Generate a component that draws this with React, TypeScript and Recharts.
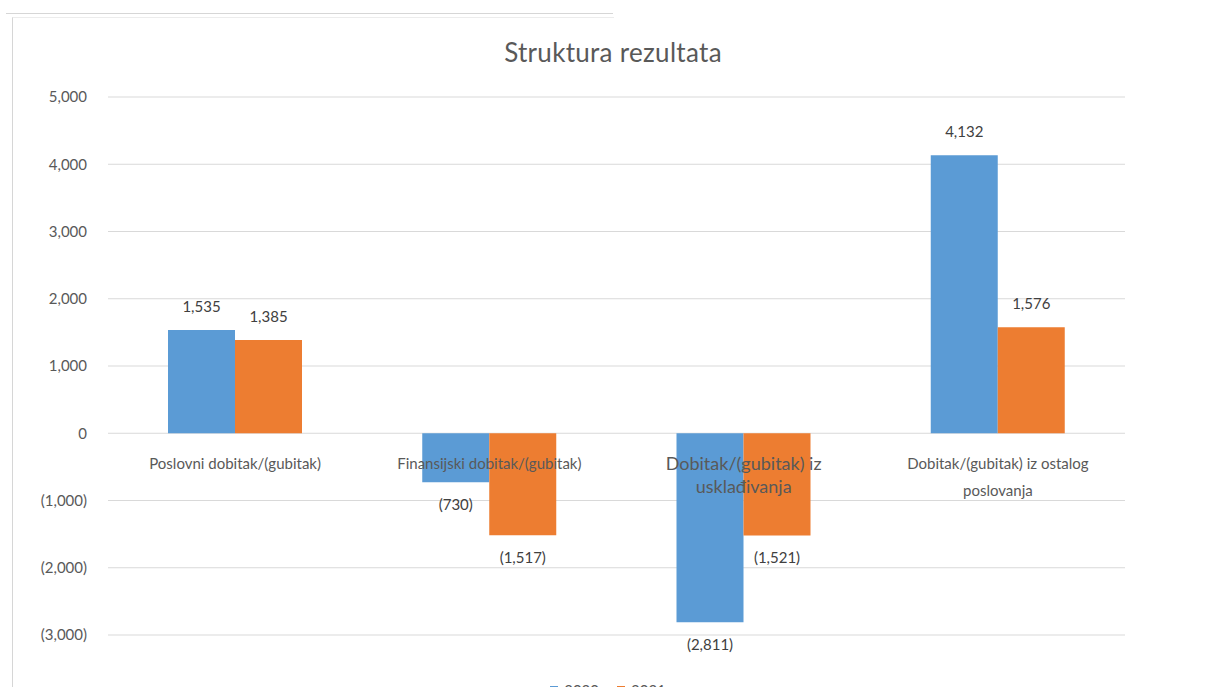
import React from "react";
import { Bar, BarChart, CartesianGrid, LabelList, XAxis, YAxis } from "recharts";

const categories = [
  "Poslovni dobitak/(gubitak)",
  "Finansijski dobitak/(gubitak)",
  "Dobitak/(gubitak) iz usklađivanja",
  "Dobitak/(gubitak) iz ostalog poslovanja",
];
// how each category label wraps in the picture
const categoryLines = [
  ["Poslovni dobitak/(gubitak)"],
  ["Finansijski dobitak/(gubitak)"],
  ["Dobitak/(gubitak) iz", "usklađivanja"],
  ["Dobitak/(gubitak) iz ostalog", "poslovanja"],
];
const series = ["2020", "2021"];
const values2020 = [1535, -730, -2811, 4132];
const values2021 = [1385, -1517, -1521, 1576];
const yTicks = [-3000, -2000, -1000, 0, 1000, 2000, 3000, 4000, 5000];

const data = categories.map((name, i) => ({
  name,
  y2020: values2020[i],
  y2021: values2021[i],
}));

const W = 1222;
const H = 700;
const TOP = 97;
const BOTTOM = 635;
const Y_MIN = -3000;
const Y_MAX = 5000;
const ZERO_Y = TOP + ((BOTTOM - TOP) * Y_MAX) / (Y_MAX - Y_MIN);

const BLUE = "#5B9BD5";
const ORANGE = "#ED7D31";
const TEXT = "#595959";
const FONT = "Lato, 'Noto Sans', sans-serif";

const fmt = (v: number) => {
  const s = Math.abs(v).toLocaleString("en-US");
  return v < 0 ? `(${s})` : s;
};

function CategoryTick(props: any) {
  const { x, payload, index } = props;
  const lines = categoryLines[index] ?? [payload.value];
  const big = index === 2;
  const size = big ? 18 : 15;
  const lh = big ? 23 : 27;
  return (
    <text
      x={x}
      y={ZERO_Y + 32}
      textAnchor="middle"
      fill={TEXT}
      fontSize={size}
      fontFamily={FONT}
      dominantBaseline="middle"
    >
      {lines.map((l: string, i: number) => (
        <tspan key={i} x={x} dy={i === 0 ? 0 : lh}>
          {l}
        </tspan>
      ))}
    </text>
  );
}

function ValueLabel(props: any) {
  const { x, y, width, height, value } = props;
  const top = Math.min(y, y + height);
  const bottom = Math.max(y, y + height);
  const ty = value < 0 ? bottom + 24 : top - 22;
  return (
    <text
      x={x + width / 2}
      y={ty}
      textAnchor="middle"
      dominantBaseline="middle"
      fill="#404040"
      fontSize={15}
      fontFamily={FONT}
    >
      {fmt(value)}
    </text>
  );
}

export default function App() {
  return (
    <div
      style={{
        position: "fixed",
        top: 0,
        left: 0,
        width: W,
        height: 687,
        overflow: "hidden",
        background: "#fff",
        fontFamily: FONT,
      }}
    >
      <div style={{ position: "absolute", top: 13, left: 6, width: 607, borderTop: "1px solid #d6d6d6" }} />
      <div
        style={{
          position: "absolute",
          top: 17,
          left: 12,
          width: 601,
          height: 700,
          borderLeft: "1px solid #d6d6d6",
          borderTop: "1px solid #ececec",
        }}
      />
      <div
        style={{
          position: "absolute",
          top: 36,
          left: 0,
          width: W + 4,
          textAlign: "center",
          fontSize: 26,
          letterSpacing: 0.3,
          color: TEXT,
        }}
      >
        Struktura rezultata
      </div>
      <div style={{ position: "absolute", top: 0, left: 0 }}>
        <BarChart
          width={W}
          height={H}
          data={data}
          margin={{ top: TOP, right: 97, bottom: H - BOTTOM - 30, left: 8 }}
          barCategoryGap={60}
          barGap={0}
        >
          <CartesianGrid vertical={false} stroke="#D9D9D9" />
          <YAxis
            width={100}
            domain={[Y_MIN, Y_MAX]}
            ticks={yTicks}
            axisLine={false}
            tickLine={false}
            tickMargin={15}
            tickFormatter={fmt}
            tick={{ fill: TEXT, fontSize: 15, fontFamily: FONT }}
          />
          <Bar dataKey="y2020" name={series[0]} fill={BLUE} isAnimationActive={false}>
            <LabelList dataKey="y2020" content={ValueLabel} />
          </Bar>
          <Bar dataKey="y2021" name={series[1]} fill={ORANGE} isAnimationActive={false}>
            <LabelList dataKey="y2021" content={ValueLabel} />
          </Bar>
          <XAxis
            dataKey="name"
            height={30}
            axisLine={false}
            tickLine={false}
            interval={0}
            tick={<CategoryTick />}
          />
        </BarChart>
      </div>
      <div
        style={{
          position: "absolute",
          top: 681,
          left: 0,
          width: W - 6,
          display: "flex",
          justifyContent: "center",
          gap: 18,
          fontSize: 15,
          color: TEXT,
          lineHeight: "18px",
        }}
      >
        {series.map((s, i) => (
          <span key={s} style={{ display: "flex", alignItems: "center", gap: 6 }}>
            <span style={{ width: 8, height: 8, background: i === 0 ? BLUE : ORANGE, display: "inline-block" }} />
            {s}
          </span>
        ))}
      </div>
    </div>
  );
}
